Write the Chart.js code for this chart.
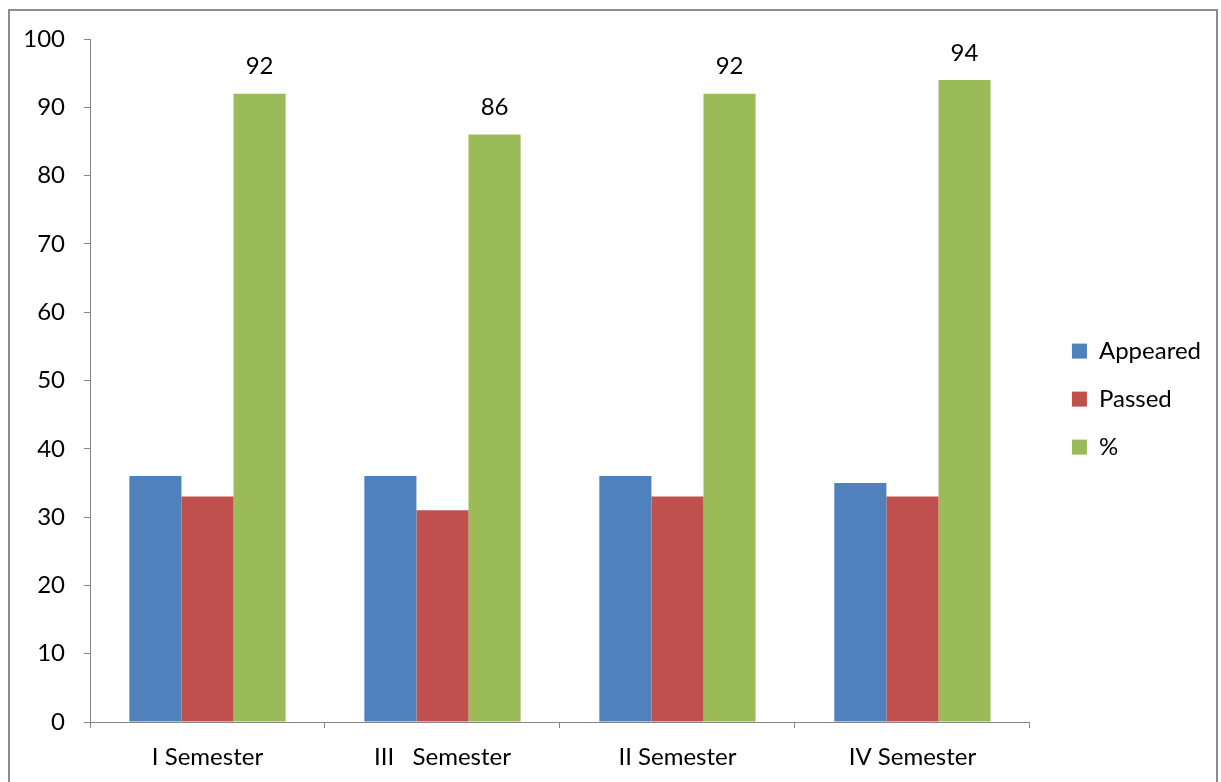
<!DOCTYPE html>
<html>
<head>
<meta charset="utf-8">
<script src="https://cdn.jsdelivr.net/npm/chart.js@4.4.1/dist/chart.umd.min.js"></script>
<style>
  html, body { margin: 0; padding: 0; background: #fff; overflow: hidden; }
  #frame {
    position: absolute; left: 8px; top: 9px; width: 1210px; height: 800px;
    border: 2px solid #8c8c8c; box-sizing: border-box;
  }
  #wrap { position: absolute; left: 0; top: 0; width: 1221px; height: 782px; }
</style>
</head>
<body>
<div id="frame"></div>
<div id="wrap"><canvas id="resultChart" width="1221" height="782"></canvas></div>
<script>
// chart data
const semesters = ['I Semester', 'III   Semester', 'II Semester', 'IV Semester'];
const appeared = [36, 36, 36, 35];
const passed = [33, 31, 33, 33];
const percent = [92, 86, 92, 94];
const yTicks = [0, 10, 20, 30, 40, 50, 60, 70, 80, 90, 100];

const FONT = 'Lato, "Open Sans", sans-serif';
const FONT_SIZE = 24;
const axisGray = '#868686';

// draw value labels on top of the % bars
const percentLabels = {
  id: 'percentLabels',
  afterDatasetsDraw(chart) {
    const ctx = chart.ctx;
    const meta = chart.getDatasetMeta(2);
    ctx.save();
    ctx.font = FONT_SIZE + 'px ' + FONT;
    ctx.fillStyle = '#000';
    ctx.textAlign = 'center';
    ctx.textBaseline = 'middle';
    meta.data.forEach((bar, i) => {
      ctx.fillText(String(percent[i]), bar.x, bar.y - 27);
    });
    ctx.restore();
  }
};

const resultChart = new Chart(document.getElementById('resultChart').getContext('2d'), {
  type: 'bar',
  data: {
    labels: semesters,
    datasets: [
      { label: 'Appeared', data: appeared, backgroundColor: '#4f81bd' },
      { label: 'Passed', data: passed, backgroundColor: '#c0504d' },
      { label: '%', data: percent, backgroundColor: '#9bbb59' }
    ]
  },
  options: {
    responsive: false,
    animation: false,
    devicePixelRatio: 1,
    layout: { padding: { top: 39, left: 0, right: 10, bottom: 0 } },
    datasets: {
      bar: { barPercentage: 1, categoryPercentage: 0.665 }
    },
    scales: {
      x: {
        grid: { offset: true, drawOnChartArea: false, drawTicks: true, tickLength: 6, color: axisGray },
        border: { color: axisGray, width: 1 },
        ticks: { color: '#000', font: { family: FONT, size: FONT_SIZE }, padding: 15, maxRotation: 0 },
        afterFit(scale) { scale.height = 60; }
      },
      y: {
        min: 0,
        max: 100,
        afterBuildTicks(scale) { scale.ticks = yTicks.map(v => ({ value: v })); },
        grid: { drawOnChartArea: false, drawTicks: true, tickLength: 6, color: axisGray },
        border: { color: axisGray, width: 1 },
        ticks: { color: '#000', font: { family: FONT, size: FONT_SIZE }, padding: 19 },
        afterFit(scale) { scale.width = 90; }
      },
      // empty spacer between the plot and the legend
      gap: {
        axis: 'y',
        position: 'right',
        display: true,
        grid: { display: false },
        border: { display: false },
        ticks: { display: false },
        afterFit(scale) { scale.width = 18; }
      }
    },
    plugins: {
      legend: {
        position: 'right',
        fullSize: false,
        title: { display: true, text: '', font: { size: 1 }, padding: 18 },
        labels: {
          boxWidth: 15,
          boxHeight: 15,
          padding: 24,
          color: '#000',
          font: { family: FONT, size: FONT_SIZE }
        }
      },
      tooltip: { enabled: false }
    }
  },
  plugins: [percentLabels]
});
</script>
</body>
</html>
